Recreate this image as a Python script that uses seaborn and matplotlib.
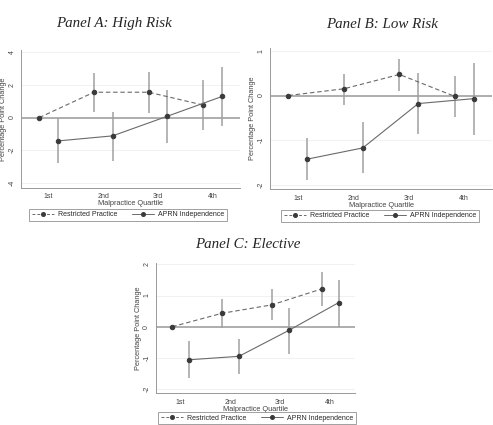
import numpy as np
import pandas as pd
import seaborn as sns
import matplotlib.pyplot as plt
from matplotlib.lines import Line2D

quartiles = ['1st', '2nd', '3rd', '4th']

# Panel A: High Risk
a_restr = [0.0, 1.55, 1.55, 0.76]
a_restr_lo = [0.0, 0.37, 0.27, -0.75]
a_restr_hi = [0.0, 2.7, 2.8, 2.3]
a_aprn = [-1.43, -1.12, 0.08, 1.29]
a_aprn_lo = [-2.8, -2.65, -1.57, -0.5]
a_aprn_hi = [-0.04, 0.37, 1.7, 3.1]

# Panel B: Low Risk
b_restr = [0.0, 0.15, 0.47, -0.02]
b_restr_lo = [0.0, -0.21, 0.11, -0.47]
b_restr_hi = [0.0, 0.49, 0.82, 0.43]
b_aprn = [-1.42, -1.17, -0.18, -0.07]
b_aprn_lo = [-1.89, -1.74, -0.87, -0.88]
b_aprn_hi = [-0.94, -0.6, 0.51, 0.72]

# Panel C: Elective
c_restr = [0.0, 0.43, 0.7, 1.21]
c_restr_lo = [0.0, -0.05, 0.21, 0.66]
c_restr_hi = [0.0, 0.89, 1.2, 1.75]
c_aprn = [-1.06, -0.95, -0.12, 0.77]
c_aprn_lo = [-1.66, -1.53, -0.86, 0.0]
c_aprn_hi = [-0.47, -0.39, 0.59, 1.5]

sns.set_theme(style='white')
plt.rcParams['font.family'] = ['Liberation Sans', 'DejaVu Sans']

W, H = 493, 425
fig = plt.figure(figsize=(W / 100, H / 100), dpi=100)

# (title, axes rect, ylim, yticks, restricted, aprn, title xy px, legend xy px)
panels = [
    ('Panel A: High Risk', [0.043, 0.558, 0.444, 0.325], (-4.3, 4.15), [-4, -2, 0, 2, 4],
     (a_restr, a_restr_lo, a_restr_hi), (a_aprn, a_aprn_lo, a_aprn_hi), (114, 24), (128, 215)),
    ('Panel B: Low Risk', [0.548, 0.555, 0.450, 0.332], (-2.09, 1.06), [-2, -1, 0, 1],
     (b_restr, b_restr_lo, b_restr_hi), (b_aprn, b_aprn_lo, b_aprn_hi), (382, 24), (380, 216)),
    ('Panel C: Elective', [0.316, 0.075, 0.404, 0.306], (-2.13, 2.04), [-2, -1, 0, 1, 2],
     (c_restr, c_restr_lo, c_restr_hi), (c_aprn, c_aprn_lo, c_aprn_hi), (248, 244), (257, 418)),
]

line_col = '#6a6a6a'
mark_col = '#3a3a3a'
ci_col = '#a0a0a0'
off = 0.17

for title, rect, ylim, yticks, restr, aprn, title_xy, leg_xy in panels:
    ax = fig.add_axes(rect)
    rows = []
    for series, (est, lo, hi), shift in (('Restricted Practice', restr, -off),
                                         ('APRN Independence', aprn, off)):
        for i, q in enumerate(quartiles):
            rows.append({'x': i + shift, 'est': est[i], 'lo': lo[i], 'hi': hi[i],
                         'series': series})
    df = pd.DataFrame(rows)

    for y in yticks:
        ax.axhline(y, color='#efefef', lw=0.6, zorder=0)
    ax.axhline(0, color='#a8a8a8', lw=1.3, zorder=1)

    ax.vlines(df['x'], df['lo'], df['hi'], color=ci_col, lw=1.1, zorder=2)
    sns.lineplot(data=df, x='x', y='est', style='series',
                 dashes={'Restricted Practice': (4, 2.5), 'APRN Independence': ''},
                 color=line_col, lw=0.8, marker='o', markersize=3.2,
                 markerfacecolor=mark_col, markeredgecolor=mark_col,
                 legend=False, ax=ax, zorder=3)

    ax.set_xlim(-0.5, 3.5)
    ax.set_ylim(*ylim)
    ax.set_xticks(range(4))
    ax.set_xticklabels(quartiles, fontsize=5, color='#444444')
    ax.set_yticks(yticks)
    ax.set_yticklabels([str(t) for t in yticks], fontsize=5, rotation=90,
                       va='center', color='#444444')
    ax.tick_params(axis='both', length=2.5, width=0.6, color='#999999', pad=1.5)
    ax.set_xlabel('Malpractice Quartile', fontsize=5.3, color='#444444', labelpad=0)
    ax.set_ylabel('Percentage Point Change', fontsize=5.3, color='#444444', labelpad=1)
    for side in ('top', 'right'):
        ax.spines[side].set_visible(False)
    for side in ('left', 'bottom'):
        ax.spines[side].set_color('#999999')
        ax.spines[side].set_linewidth(0.7)

    fig.text(title_xy[0] / W, 1 - title_xy[1] / H, title, ha='center', va='center',
             fontsize=10.8, style='italic', family=['Liberation Serif', 'DejaVu Serif'])

    handles = [
        Line2D([], [], color=line_col, lw=0.7, ls=(0, (3, 2)), marker='o',
               markersize=2.6, markerfacecolor=mark_col, markeredgecolor=mark_col),
        Line2D([], [], color=line_col, lw=0.7, marker='o', markersize=2.6,
               markerfacecolor=mark_col, markeredgecolor=mark_col),
    ]
    leg = fig.legend(handles, ['Restricted Practice', 'APRN Independence'],
                     loc='center', bbox_to_anchor=(leg_xy[0] / W, 1 - leg_xy[1] / H),
                     ncol=2, fontsize=5, frameon=True, fancybox=False,
                     edgecolor='#888888', handlelength=3.2, handletextpad=0.6,
                     columnspacing=2.0, borderpad=0.35)
    leg.get_frame().set_linewidth(0.7)

fig.savefig('out.png', dpi=100)
